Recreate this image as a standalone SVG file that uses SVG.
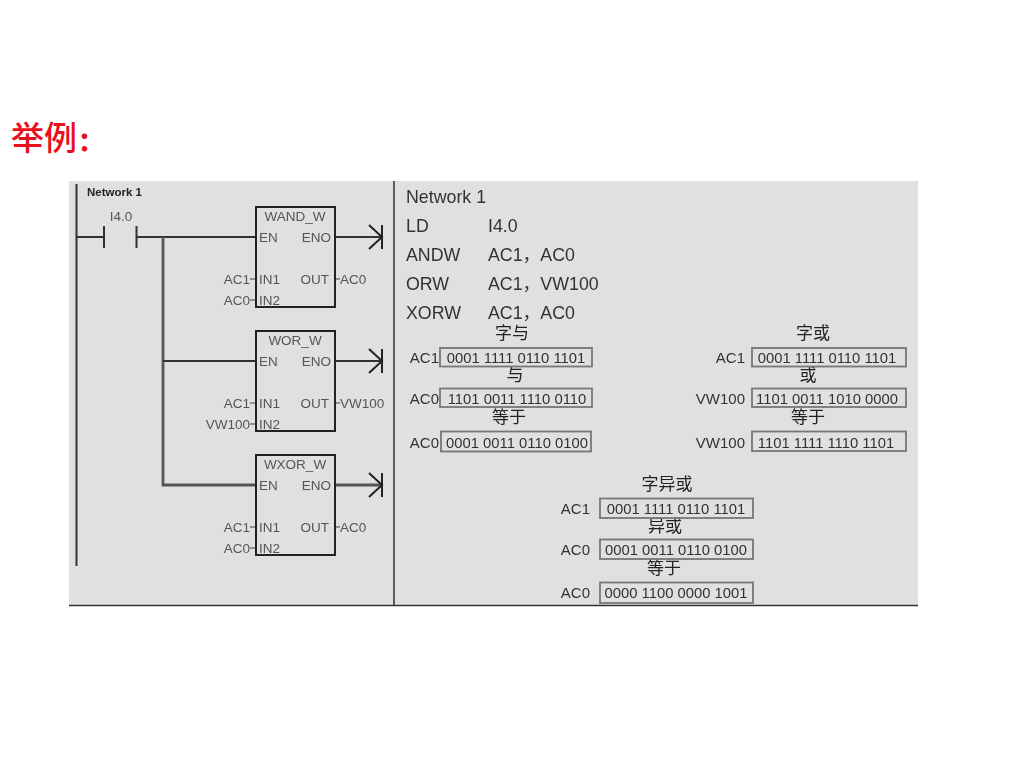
<svg xmlns="http://www.w3.org/2000/svg" width="1024" height="768" viewBox="0 0 1024 768">
<defs>
<filter id="soft" x="-5%" y="-5%" width="110%" height="110%"><feGaussianBlur stdDeviation="0.55"/></filter>
<g id="coil"><path d="M369 -12 L382 0 L369 12 M382 -12 V12" fill="none" stroke="#222" stroke-width="2"/></g>
</defs>
<style>
text{font-family:"Liberation Sans","Noto Sans CJK SC",sans-serif}
.s{font-size:13.500px;fill:#555}
.e{text-anchor:end}
.m{text-anchor:middle}
.il{font-size:17.800px;fill:#333}
.v{font-size:14.800px;fill:#333;text-anchor:middle}
.l{font-size:15px;fill:#333;text-anchor:end}
.c{font-size:17px;fill:#222;text-anchor:middle;font-family:"Noto Sans CJK SC",sans-serif}
.b{fill:none;stroke:#222;stroke-width:2}
.w{fill:none;stroke:#333;stroke-width:2}
.t{fill:none;stroke:#444;stroke-width:1.200}
.r{fill:none;stroke:#777;stroke-width:1.800}
</style>
<rect width="1024" height="768" fill="#fff"/>
<text id="title" x="11" y="150" font-size="33" font-weight="500" fill="#e8101a" style="font-family:'Noto Sans CJK SC',serif">举例<tspan font-size="26" font-weight="900" dx="1" dy="1">：</tspan></text>
<rect id="panel" x="69" y="181" width="849" height="424" fill="#e0e0e0"/>
<g filter="url(#soft)">
<g id="frame"><path d="M69 605.500H918" stroke="#333" stroke-width="1.500"/><path d="M394 181V605" stroke="#333" stroke-width="1.500"/></g>
<g id="connectors">
<path class="w" d="M76.500 184V566" stroke-width="2.500"/>
<path class="w" d="M77 237H104M104 226V248M136.500 226V248M137 237H256"/>
<path d="M163 237V485H256" fill="none" stroke="#555" stroke-width="2.800"/>
<path class="w" d="M163 361H256"/>
<path class="w" d="M335 237H382M335 361H382"/>
<path d="M335 485H382" stroke="#555" stroke-width="3.200"/>
<use href="#coil" y="237"/><use href="#coil" y="361"/><use href="#coil" y="485"/>
<path class="t" d="M250 279H256M250 300H256M335 279H340M250 403H256M250 424H256M335 403H340M250 527H256M250 548H256M335 527H340"/>
</g>
<g id="network-label"><text x="87" y="196" font-size="11.500" font-weight="bold" fill="#222">Network 1</text><text class="s m" x="121" y="221">I4.0</text></g>
<g id="wand"><rect class="b" x="256" y="207" width="79" height="100"/><text class="s m" x="295" y="221">WAND_W</text><text class="s" x="259" y="242">EN</text><text class="s e" x="331" y="242">ENO</text><text class="s" x="259" y="284">IN1</text><text class="s e" x="329" y="284">OUT</text><text class="s" x="259" y="305">IN2</text><text class="s e" x="250" y="284">AC1</text><text class="s e" x="250" y="305">AC0</text><text class="s" x="340" y="284">AC0</text></g>
<g id="wor"><rect class="b" x="256" y="331" width="79" height="100"/><text class="s m" x="295" y="345">WOR_W</text><text class="s" x="259" y="366">EN</text><text class="s e" x="331" y="366">ENO</text><text class="s" x="259" y="408">IN1</text><text class="s e" x="329" y="408">OUT</text><text class="s" x="259" y="429">IN2</text><text class="s e" x="250" y="408">AC1</text><text class="s e" x="250" y="429">VW100</text><text class="s" x="340" y="408">VW100</text></g>
<g id="wxor"><rect class="b" x="256" y="455" width="79" height="100"/><text class="s m" x="295" y="469">WXOR_W</text><text class="s" x="259" y="490">EN</text><text class="s e" x="331" y="490">ENO</text><text class="s" x="259" y="532">IN1</text><text class="s e" x="329" y="532">OUT</text><text class="s" x="259" y="553">IN2</text><text class="s e" x="250" y="532">AC1</text><text class="s e" x="250" y="553">AC0</text><text class="s" x="340" y="532">AC0</text></g>
<g id="il-code">
<text class="il" x="406" y="203">Network 1</text>
<text class="il" x="406" y="232">LD</text><text class="il" x="488" y="232">I4.0</text>
<text class="il" x="406" y="261">ANDW</text><text class="il" x="488" y="261">AC1，AC0</text>
<text class="il" x="406" y="290">ORW</text><text class="il" x="488" y="290">AC1，VW100</text>
<text class="il" x="406" y="319">XORW</text><text class="il" x="488" y="319">AC1，AC0</text>
</g>
<g id="and-table">
<text class="c" x="512" y="339">字与</text><text class="c" x="515" y="381">与</text><text class="c" x="509" y="423">等于</text>
<rect class="r" x="440" y="348" width="152" height="18.500"/><rect class="r" x="440" y="388.500" width="152" height="18.500"/><rect class="r" x="441" y="431.500" width="150" height="20"/>
<text class="l" x="439" y="363">AC1</text><text class="l" x="439" y="404">AC0</text><text class="l" x="439" y="448">AC0</text>
<text class="v" x="516" y="363">0001 1111 0110 1101</text><text class="v" x="517" y="404">1101 0011 1110 0110</text><text class="v" x="517" y="448">0001 0011 0110 0100</text>
</g>
<g id="or-table">
<text class="c" x="813" y="339">字或</text><text class="c" x="808" y="381">或</text><text class="c" x="808" y="423">等于</text>
<rect class="r" x="752" y="348" width="154" height="18.500"/><rect class="r" x="752" y="388.500" width="154" height="18.500"/><rect class="r" x="752" y="431.500" width="154" height="19.500"/>
<text class="l" x="745" y="363">AC1</text><text class="l" x="745" y="404">VW100</text><text class="l" x="745" y="448">VW100</text>
<text class="v" x="827" y="363">0001 1111 0110 1101</text><text class="v" x="827" y="404">1101 0011 1010 0000</text><text class="v" x="826" y="448">1101 1111 1110 1101</text>
</g>
<g id="xor-table">
<text class="c" x="667" y="490">字异或</text><text class="c" x="665" y="532">异或</text><text class="c" x="664" y="574">等于</text>
<rect class="r" x="600" y="498.500" width="153" height="19.500"/><rect class="r" x="600" y="539.500" width="153" height="19.500"/><rect class="r" x="600" y="582.500" width="153" height="20.500"/>
<text class="l" x="590" y="514">AC1</text><text class="l" x="590" y="555">AC0</text><text class="l" x="590" y="598">AC0</text>
<text class="v" x="676" y="514">0001 1111 0110 1101</text><text class="v" x="676" y="555">0001 0011 0110 0100</text><text class="v" x="676" y="598">0000 1100 0000 1001</text>
</g>
</g>
</svg>
